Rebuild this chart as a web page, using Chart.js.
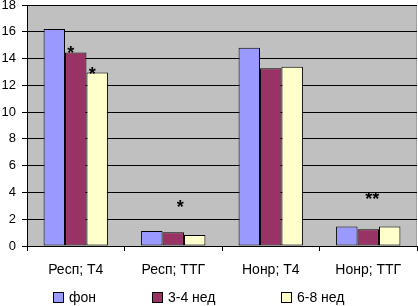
<!DOCTYPE html>
<html><head><meta charset="utf-8">
<script src="https://cdn.jsdelivr.net/npm/chart.js@4/dist/chart.umd.min.js"></script>
<style>html,body{margin:0;padding:0;background:#fff}#wrap{width:418px;height:306px}</style>
</head><body><div id="wrap"><canvas id="c" width="418" height="306"></canvas></div>
<script>
const categories = ["Респ; Т4", "Респ; ТТГ", "Нонр; Т4", "Нонр; ТТГ"];
const seriesNames = ["фон", "3-4 нед", "6-8 нед"];
const fon = [16.2, 1.12, 14.8, 1.45];
const wk34 = [14.45, 1.02, 13.28, 1.25];
const wk68 = [12.96, 0.82, 13.38, 1.45];
const yTicks = [0, 2, 4, 6, 8, 10, 12, 14, 16, 18];
// annotations: [category index, series index, y value, text]
const marks = [[0, 1, 14.6, "*"], [0, 2, 13.1, "*"], [1, 1, 3.1, "*"], [3, 1, 3.7, "**"]];
const markDx = [-5, -5, 7, 4];

const colors = ["#9999ff", "#993366", "#ffffcc"];
const FONT = "Liberation Sans, Arial, sans-serif";

const plotBg = {
  id: "plotBg",
  beforeDraw(chart) {
    const {ctx, chartArea: a} = chart;
    ctx.save();
    ctx.fillStyle = "#c0c0c0";
    ctx.fillRect(a.left, a.top, a.right - a.left, a.bottom - a.top);
    ctx.strokeStyle = "#a0a0a0";
    ctx.lineWidth = 1;
    ctx.strokeRect(a.left + 0.5, a.top + 0.5, a.right - a.left - 1, a.bottom - a.top);
    ctx.restore();
  },
  afterDraw(chart) {
    const {ctx} = chart;
    ctx.save();
    ctx.fillStyle = "#000";
    ctx.font = "bold 18px " + FONT;
    ctx.textAlign = "center";
    ctx.textBaseline = "middle";
    marks.forEach((m, i) => {
      const bar = chart.getDatasetMeta(m[1]).data[m[0]];
      const y = chart.scales.y.getPixelForValue(m[2]);
      ctx.fillText(m[3], bar.x + markDx[i], y + 4);
    });
    // legend
    ctx.font = "14px " + FONT;
    ctx.textAlign = "left";
    ctx.textBaseline = "middle";
    const lx = [53, 152, 281];
    const ly = 298;
    seriesNames.forEach((n, i) => {
      ctx.fillStyle = colors[i];
      ctx.fillRect(lx[i] + 0.5, ly - 5.5, 10, 10);
      ctx.strokeStyle = "#000";
      ctx.lineWidth = 1;
      ctx.strokeRect(lx[i] + 0.5, ly - 5.5, 10, 10);
      ctx.fillStyle = "#000";
      ctx.fillText(n, lx[i] + 16, ly);
    });
    ctx.restore();
  }
};

new Chart(document.getElementById("c"), {
  type: "bar",
  data: {
    labels: categories,
    datasets: [fon, wk34, wk68].map((d, i) => ({
      label: seriesNames[i],
      data: d,
      backgroundColor: colors[i],
      borderColor: "#000",
      borderWidth: 1,
      borderSkipped: false,
      categoryPercentage: 0.66,
      barPercentage: 1
    }))
  },
  options: {
    responsive: false,
    animation: false,
    devicePixelRatio: 1,
    layout: {padding: {top: 5, right: 1, left: 0, bottom: 0}},
    plugins: {legend: {display: false}, tooltip: {enabled: false}},
    scales: {
      x: {
        afterFit: s => { s.height = 60; s.paddingLeft = 0; s.paddingRight = 0; },
        grid: {offset: true, drawOnChartArea: false, color: "#000", tickLength: 5, lineWidth: 1},
        border: {color: "#000"},
        ticks: {color: "#000", font: {family: FONT, size: 14}, padding: 11, maxRotation: 0, autoSkip: false}
      },
      y: {
        min: 0, max: 18,
        afterFit: s => { s.width = 27; s.paddingTop = 0; s.paddingBottom = 0; },
        afterBuildTicks: s => { s.ticks = yTicks.map(v => ({value: v})); },
        grid: {color: "#000", tickLength: 5, lineWidth: 1},
        border: {color: "#000"},
        ticks: {color: "#000", font: {family: FONT, size: 13}, padding: 6}
      }
    }
  },
  plugins: [plotBg]
});
</script></body></html>
